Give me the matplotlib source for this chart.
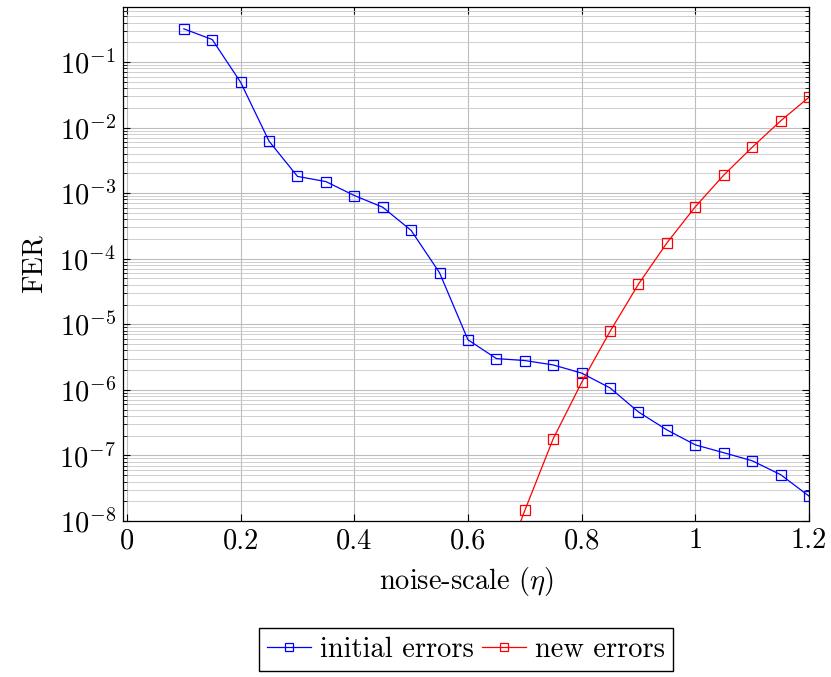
import matplotlib
matplotlib.use("Agg")
import matplotlib.pyplot as plt
from matplotlib.ticker import LogLocator, NullFormatter

plt.rcParams['font.family'] = 'cmr10'
plt.rcParams['mathtext.fontset'] = 'cm'
plt.rcParams['axes.unicode_minus'] = False
plt.rcParams['axes.formatter.use_mathtext'] = True

# noise scale values and frame error rates
eta_initial = [0.1, 0.15, 0.2, 0.25, 0.3, 0.35, 0.4, 0.45, 0.5, 0.55, 0.6, 0.65,
               0.7, 0.75, 0.8, 0.85, 0.9, 0.95, 1.0, 1.05, 1.1, 1.15, 1.2]
fer_initial = [3.2e-1, 2.2e-1, 4.9e-2, 6.2e-3, 1.8e-3, 1.5e-3, 9.2e-4, 6.1e-4, 2.7e-4,
               6.1e-5, 5.8e-6, 3.0e-6, 2.8e-6, 2.4e-6, 1.8e-6, 1.07e-6, 4.6e-7, 2.45e-7,
               1.45e-7, 1.1e-7, 8.3e-8, 5.1e-8, 2.4e-8]

eta_new = [0.65, 0.7, 0.75, 0.8, 0.85, 0.9, 0.95, 1.0, 1.05, 1.1, 1.15, 1.2]
fer_new = [1.0e-9, 1.45e-8, 1.8e-7, 1.3e-6, 7.8e-6, 4.1e-5, 1.74e-4, 6.2e-4, 1.88e-3,
           5.0e-3, 1.26e-2, 2.9e-2]

xticks = [0, 0.2, 0.4, 0.6, 0.8, 1.0, 1.2]
xticklabels = ['0', '0.2', '0.4', '0.6', '0.8', '1', '1.2']

FS = 20.5

fig = plt.figure(figsize=(8.31, 6.77), dpi=100)
ax = fig.add_axes([0.148, 0.2304, 0.8255, 0.7593])

ax.plot(eta_initial, fer_initial, color='blue', lw=0.9, marker='s', ms=7.5,
        mfc='none', mec='blue', mew=0.9, label='initial errors')
ax.plot(eta_new, fer_new, color='red', lw=0.9, marker='s', ms=7.5,
        mfc='none', mec='red', mew=0.9, label='new errors')

ax.set_yscale('log')
ax.set_xlim(-0.007, 1.2)
ax.set_ylim(1e-8, 0.69)
ax.set_xticks(xticks)
ax.set_xticklabels(xticklabels)
ax.yaxis.set_major_locator(LogLocator(base=10, numticks=20))
ax.yaxis.set_minor_locator(LogLocator(base=10, subs=range(2, 10), numticks=20))
ax.yaxis.set_minor_formatter(NullFormatter())

ax.grid(True, which='major', color='#bdbdbd', lw=0.8)
ax.grid(True, which='minor', axis='y', color='#c8c8c8', lw=0.6)
ax.set_axisbelow(True)

ax.tick_params(which='both', direction='in', top=True, right=True, labelsize=FS)
ax.tick_params(which='major', length=5, width=0.8, pad=5)
ax.tick_params(which='minor', length=3, width=0.6)
for s in ax.spines.values():
    s.set_linewidth(0.9)

ax.set_xlabel(r'noise-scale ($\eta$)', fontsize=FS, labelpad=8)
ax.set_ylabel('FER', fontsize=FS, labelpad=8)

ax.legend(loc='upper center', bbox_to_anchor=(0.5, -0.208), ncol=2, fontsize=FS,
          frameon=True, fancybox=False, edgecolor='black', framealpha=1,
          handlelength=1.55, handletextpad=0.3, columnspacing=0.3,
          borderpad=0.3, borderaxespad=0, markerscale=0.75)

fig.savefig('out.png', dpi=100)
